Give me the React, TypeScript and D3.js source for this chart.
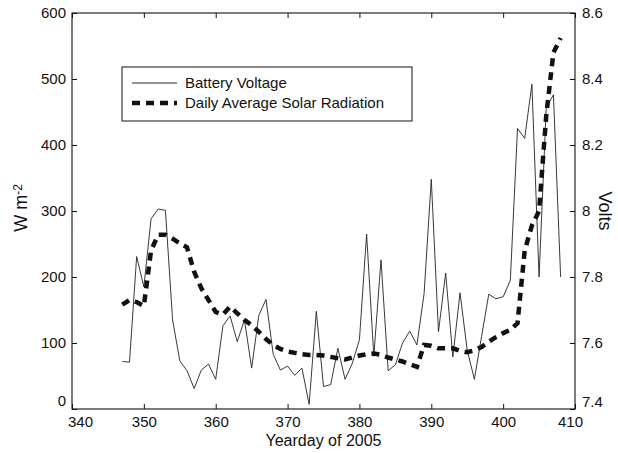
import React, { useEffect, useRef } from 'react';
import * as d3 from 'd3';

// yearday of 2005
const days = [
  347, 348, 349, 350, 351, 352, 353, 354, 355, 356, 357, 358, 359, 360, 361, 362,
  363, 364, 365, 366, 367, 368, 369, 370, 371, 372, 373, 374, 375, 376, 377, 378,
  379, 380, 381, 382, 383, 384, 385, 386, 387, 388, 389, 390, 391, 392, 393, 394,
  395, 396, 397, 398, 399, 400, 401, 402, 403, 404, 405, 406, 407, 408
];

// battery voltage (V, right axis)
const batteryVolts = [
  7.544, 7.542, 7.862, 7.770, 7.976, 8.006, 8.002, 7.670, 7.546, 7.516, 7.462, 7.518, 7.536, 7.490, 7.652, 7.682,
  7.604, 7.670, 7.524, 7.684, 7.732, 7.566, 7.518, 7.530, 7.502, 7.524, 7.414, 7.696, 7.468, 7.474, 7.584, 7.490,
  7.538, 7.610, 7.930, 7.560, 7.852, 7.516, 7.534, 7.600, 7.636, 7.594, 7.750, 8.096, 7.634, 7.812, 7.558, 7.752,
  7.578, 7.490, 7.620, 7.748, 7.734, 7.740, 7.790, 8.250, 8.220, 8.384, 7.800, 8.316, 8.352, 7.800
];

// daily average solar radiation (W m-2, left axis)
const solarRadiation = [
  158, 165, 162, 156, 240, 264, 264, 258, 251, 245, 208, 183, 165, 147, 143, 155,
  145, 135, 127, 117, 106, 97, 91, 87, 85, 83, 82, 82, 81, 79, 77, 75,
  78, 81, 83, 84, 82, 78, 75, 72, 68, 64, 97, 96, 92, 92, 92, 88,
  86, 89, 94, 102, 109, 115, 120, 130, 240, 278, 300, 445, 540, 562
];

const xTicks = [340, 350, 360, 370, 380, 390, 400, 410];
const leftTicks = [0, 100, 200, 300, 400, 500, 600];
const rightTicks = [7.4, 7.6, 7.8, 8, 8.2, 8.4, 8.6];
const legendLabels = ['Battery Voltage', 'Daily Average Solar Radiation'];

const FONT = '"Liberation Sans", Arial, Helvetica, sans-serif';

export default function App() {
  const ref = useRef<SVGSVGElement>(null);

  useEffect(() => {
    const W = 618, H = 453;
    const margin = { top: 13, right: 43, bottom: 44, left: 72 };
    const width = W - margin.left - margin.right;
    const height = H - margin.top - margin.bottom;

    const svg = d3.select(ref.current);
    svg.selectAll('*').remove();

    const x = d3.scaleLinear().domain([340, 410]).range([0, width]);
    const yL = d3.scaleLinear().domain([0, 600]).range([height, 0]);
    const yR = d3.scaleLinear().domain([7.4, 8.6]).range([height, 0]);

    const g = svg.append('g').attr('transform', `translate(${margin.left},${margin.top})`);

    // axes, ticks pointing inward
    const xAxis = g.append('g').attr('transform', `translate(0,${height})`)
      .call(d3.axisBottom(x).tickValues(xTicks).tickSizeInner(-5).tickSizeOuter(0).tickPadding(7).tickFormat(d3.format('d')));
    xAxis.selectAll('text').attr('dx', (d: any) => d === 340 ? 8 : d === 410 ? -5 : 0);

    g.append('g')
      .call(d3.axisTop(x).tickValues(xTicks).tickSizeInner(-5).tickSizeOuter(0).tickFormat(() => ''));

    const left = g.append('g')
      .call(d3.axisLeft(yL).tickValues(leftTicks).tickSizeInner(-5).tickSizeOuter(0).tickPadding(6).tickFormat(d3.format('d')));
    left.selectAll('text').attr('dy', (d: any) => d === 0 ? '-0.25em' : '0.32em');

    const right = g.append('g').attr('transform', `translate(${width},0)`)
      .call(d3.axisRight(yR).tickValues(rightTicks).tickSizeInner(-5).tickSizeOuter(0).tickPadding(7).tickFormat(d3.format('')));
    right.selectAll('text').attr('dy', (d: any) => d === 7.4 ? '-0.2em' : '0.32em');

    g.selectAll('.domain').remove();
    g.selectAll('.tick line').attr('stroke', '#111');
    g.selectAll('.tick text').attr('fill', '#111').style('font-family', FONT).style('font-size', '15px');

    // frame
    g.append('rect').attr('width', width).attr('height', height)
      .attr('fill', 'none').attr('stroke', '#111').attr('stroke-width', 1.1);

    // battery voltage
    const voltLine = d3.line<number>()
      .x((_, i) => x(days[i]))
      .y(d => yR(d));
    g.append('path').datum(batteryVolts)
      .attr('d', voltLine)
      .attr('fill', 'none').attr('stroke', '#222').attr('stroke-width', 0.9);

    // solar radiation
    const solarLine = d3.line<number>()
      .x((_, i) => x(days[i]))
      .y(d => yL(d));
    g.append('path').datum(solarRadiation)
      .attr('d', solarLine)
      .attr('fill', 'none').attr('stroke', '#111').attr('stroke-width', 4.5)
      .attr('stroke-dasharray', '8,6');

    // legend
    const lg = svg.append('g').attr('transform', 'translate(122,67)');
    lg.append('rect').attr('width', 290).attr('height', 54)
      .attr('fill', 'white').attr('stroke', '#111').attr('stroke-width', 1);
    legendLabels.forEach((label, i) => {
      const ly = 16 + i * 20;
      lg.append('line').attr('x1', 10).attr('x2', 55).attr('y1', ly).attr('y2', ly)
        .attr('stroke', '#111')
        .attr('stroke-width', i === 0 ? 0.9 : 4.5)
        .attr('stroke-dasharray', i === 0 ? null : '8,6');
      lg.append('text').attr('x', 63).attr('y', ly).attr('dy', '0.35em')
        .style('font-family', FONT).style('font-size', '15px').attr('fill', '#111')
        .text(label);
    });

    // axis titles
    svg.append('text')
      .attr('x', margin.left + width / 2).attr('y', 446)
      .attr('text-anchor', 'middle')
      .style('font-family', FONT).style('font-size', '16px').attr('fill', '#111')
      .text('Yearday of 2005');

    const wl = svg.append('text')
      .attr('transform', 'translate(27,208) rotate(-90)')
      .attr('text-anchor', 'middle')
      .style('font-family', FONT).style('font-size', '18px').attr('fill', '#111');
    wl.append('tspan').text('W m');
    wl.append('tspan').attr('dy', '-0.45em').style('font-size', '12px').text('-2');

    svg.append('text')
      .attr('transform', 'translate(599,211) rotate(90)')
      .attr('text-anchor', 'middle')
      .style('font-family', FONT).style('font-size', '18px').attr('fill', '#111')
      .text('Volts');
  }, []);

  return (
    <svg ref={ref} width={618} height={453}
      style={{ position: 'absolute', left: 0, top: 0, background: 'white' }} />
  );
}
